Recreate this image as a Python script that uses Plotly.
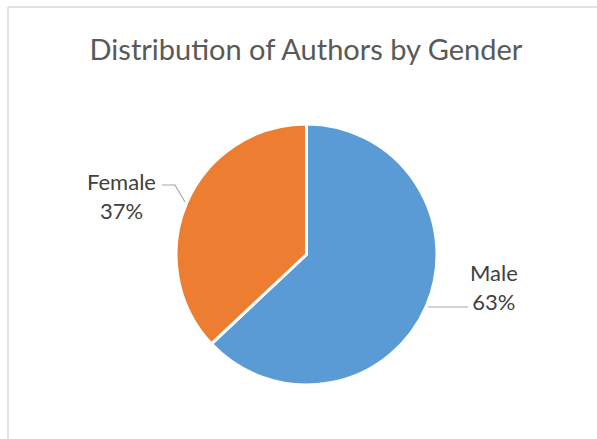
import plotly.graph_objects as go

labels = ["Male", "Female"]
values = [63, 37]
colors = ["#5B9BD5", "#ED7D31"]
title = "Distribution of Authors by Gender"

W, H = 597, 439
fig = go.Figure()
fig.add_trace(go.Pie(
    labels=labels, values=values, sort=False, direction="clockwise", rotation=0,
    marker=dict(colors=colors, line=dict(color="white", width=3)),
    textinfo="none", hoverinfo="label+percent", showlegend=False,
    domain=dict(x=[176/W, 437/W], y=[54/H, 315/H]),
))

total = sum(values)
font = dict(family="Lato, Open Sans, sans-serif", size=22, color="#404040")
lab_pos = {"Female": (122, 196), "Male": (494, 287)}
for lab, v in zip(labels, values):
    px, py = lab_pos[lab]
    fig.add_annotation(x=px/W, y=1-py/H, xref="paper", yref="paper",
                       xanchor="center", yanchor="middle",
                       text=f"{lab}<br>{round(100*v/total)}%", showarrow=False,
                       font=font, align="center")

# leader lines
line = dict(color="#A6A6A6", width=1.2)
fig.add_shape(type="path", xref="paper", yref="paper",
              path=f"M {162/W} {1-185/H} L {175/W} {1-185/H} L {185/W} {1-202/H}",
              line=line)
fig.add_shape(type="line", xref="paper", yref="paper",
              x0=428/W, y0=1-307/H, x1=468/W, y1=1-307/H, line=line)

# chart border (left & top)
border = dict(color="#D9D9D9", width=1.5)
fig.add_shape(type="line", xref="paper", yref="paper",
              x0=8/W, y0=1-7/H, x1=1, y1=1-7/H, line=border)
fig.add_shape(type="line", xref="paper", yref="paper",
              x0=8/W, y0=1-7/H, x1=8/W, y1=0, line=border)

fig.update_layout(
    width=W, height=H, margin=dict(l=0, r=0, t=0, b=0),
    paper_bgcolor="white", plot_bgcolor="white",
    title=dict(text=title, x=306/W, xanchor="center", y=1-50/H, yanchor="middle",
               font=dict(family="Lato, Open Sans, sans-serif", size=29, color="#595959")),
)
fig.write_html("out.html", config={"displayModeBar": False},
               post_script="document.body.style.margin='0';document.body.style.overflow='hidden';")
